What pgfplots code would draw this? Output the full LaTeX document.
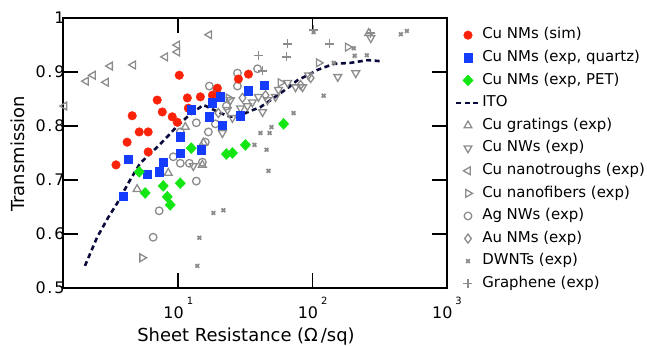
\documentclass[border=0pt]{standalone}
\usepackage{fontspec}
\setmainfont{DejaVu Sans}
\usepackage{pgfplots}
\pgfplotsset{compat=1.18}
\definecolor{cred}{RGB}{250,35,10}
\definecolor{cblue}{RGB}{20,60,250}
\definecolor{cgreen}{RGB}{20,230,20}
\definecolor{cgray}{RGB}{140,140,140}
\definecolor{cito}{RGB}{10,10,60}
\newcommand{\mysup}[1]{\hspace{3bp}\raisebox{14bp}{\fontsize{10}{10}\selectfont #1}}
\newcommand{\yl}[2]{#1\kern1.8bp.\kern1.8bp#2}
\pgfplotsset{
 mkleg/.style={legend image code/.code={\path[draw=none] (0bp,0bp) -- (23bp,0bp);\draw[##1,only marks] plot coordinates {(11.5bp,0bp)};}},
 lnleg/.style={legend image code/.code={\draw[##1] (0bp,0bp) -- (23bp,0bp);}},
 ssim/.style={only marks, mark=*, color=cred, mark size=4.3bp},
 squ/.style={only marks, mark=square*, color=cblue, mark size=4.2bp},
 spet/.style={only marks, mark=diamond*, color=cgreen, mark size=5.5bp, mark options={xscale=1.25}},
 sito/.style={color=cito, line width=2.6bp, dash pattern=on 5bp off 3.5bp, no marks},
 sgr/.style={only marks, mark=triangle, color=cgray, mark size=4.5bp, line width=1.3bp},
 snw/.style={only marks, mark=triangle, color=cgray, mark size=4.5bp, line width=1.3bp, mark options={rotate=180}},
 str/.style={only marks, mark=triangle, color=cgray, mark size=4.5bp, line width=1.3bp, mark options={rotate=90}},
 sfi/.style={only marks, mark=triangle, color=cgray, mark size=4.5bp, line width=1.3bp, mark options={rotate=-90}},
 sag/.style={only marks, mark=o, color=cgray, mark size=3.8bp, line width=1.3bp},
 sau/.style={only marks, mark=diamond, color=cgray, mark size=4.5bp, line width=1.3bp},
 sdw/.style={only marks, mark=x, color=cgray, mark size=2.6bp, line width=1.8bp},
 sgp/.style={only marks, mark=+, color=cgray, mark size=4.5bp, line width=1.4bp},
}
\begin{document}
\begin{tikzpicture}
\path[use as bounding box] (-63bp,-58bp) rectangle (584bp,288bp);
\begin{axis}[
 scale only axis, width=384bp, height=270bp,
 at={(0,0)}, anchor=south west,
 xmode=log, xmin=1.387, xmax=1000, ymin=0.5, ymax=1,
 xtick={10,100,1000},
 xticklabels={10\mysup{1},10\mysup{2},10\mysup{3}},
 ytick={0.5,0.6,0.7,0.8,0.9,1},
 yticklabels={\yl05,\yl06,\yl07,\yl08,\yl09,1},
 xminorticks=false, yminorticks=false,
 tick align=inside, major tick length=15bp,
 every tick/.style={black, line width=1.6bp},
 axis line style={line width=1.6bp},
 tick label style={font=\fontsize{16}{18}\selectfont},
 yticklabel style={xshift=5bp},
 xticklabel style={anchor=base, yshift=-30bp},
 label style={font=\fontsize{18}{21}\selectfont},
 xlabel={Sheet Resistance (Ω\,/sq)},
 ylabel={Transmission},
 xlabel style={at={(axis description cs:0.4766,-0.181)},anchor=center},
 ylabel style={at={(axis description cs:-0.117,0.497)},anchor=center},
 legend cell align=left,
 legend style={draw=none, fill=none, at={(axis description cs:1.0208,0.964)}, anchor=north west,
   font=\fontsize{15}{18}\selectfont, row sep=8.1bp, inner sep=0pt,
   nodes={font=\fontsize{15}{18}\selectfont, text height=11bp, text depth=3.5bp, inner xsep=1.5bp, inner ysep=0bp}},
]
\addlegendimage{ssim,mkleg}\addlegendentry{Cu NMs (sim)}
\addlegendimage{squ,mkleg}\addlegendentry{Cu NMs (exp, quartz)}
\addlegendimage{spet,mkleg}\addlegendentry{Cu NMs (exp, PET)}
\addlegendimage{sito,lnleg}\addlegendentry{ITO}
\addlegendimage{sgr,mkleg}\addlegendentry{Cu gratings (exp)}
\addlegendimage{snw,mkleg}\addlegendentry{Cu NWs (exp)}
\addlegendimage{str,mkleg}\addlegendentry{Cu nanotroughs (exp)}
\addlegendimage{sfi,mkleg}\addlegendentry{Cu nanofibers (exp)}
\addlegendimage{sag,mkleg}\addlegendentry{Ag NWs (exp)}
\addlegendimage{sau,mkleg}\addlegendentry{Au NMs (exp)}
\addlegendimage{sdw,mkleg}\addlegendentry{DWNTs (exp)}
\addlegendimage{sgp,mkleg}\addlegendentry{Graphene (exp)}

% Cu gratings
\addplot[sgr,forget plot] coordinates {(8.42,0.713) (4.94,0.683) (11.28,0.798) (15.37,0.769) (15.10,0.728) (261.6,0.972)};
% Cu NWs
\addplot[snw,forget plot] coordinates {(153.8,0.891) (209.4,0.898) (21.29,0.787) (12.94,0.726) (25.29,0.815) (32.7,0.837) (42.4,0.826) (46.1,0.848) (52.9,0.854) (55.7,0.867) (65.1,0.880) (74.6,0.872) (84.2,0.872) (93.3,0.894) (24.43,0.848) (29.03,0.833) (35.6,0.844) (39.5,0.854) (23.21,0.830) (270.8,0.963)};
% Cu nanotroughs
\addplot[str,forget plot] coordinates {(1.42,0.837) (2.06,0.883) (2.32,0.894) (2.90,0.881) (3.11,0.911) (4.62,0.913) (8.00,0.928) (9.83,0.950) (9.83,0.937) (17.03,0.969)};
% Cu nanofibers
\addplot[sfi,forget plot] coordinates {(5.38,0.556) (110.9,0.917) (182.5,0.946) (23.61,0.852) (57.7,0.880)};
% Ag NWs
\addplot[sag,forget plot] coordinates {(17.03,0.874) (19.21,0.863) (27.56,0.898) (27.56,0.874) (38.9,0.906) (22.81,0.837) (18.88,0.804) (13.62,0.806) (10.35,0.789) (9.18,0.743) (10.35,0.731) (15.10,0.733) (15.90,0.770) (13.62,0.698) (7.21,0.643) (6.50,0.594) (12.08,0.731) (16.75,0.789)};
% Au NMs
\addplot[sau,forget plot] coordinates {(19.89,0.824) (30.05,0.852) (44.6,0.857) (81.3,0.876) (96.6,0.889)};
% DWNTs
\addplot[sdw,forget plot] coordinates {(101.7,0.974) (202.4,0.944) (205.6,0.930) (252.9,0.931) (453.6,0.970) (502.5,0.976) (120.8,0.856) (143.5,0.917) (72.1,0.824) (49.4,0.798) (40.9,0.787) (47.8,0.787) (36.9,0.765) (45.4,0.756) (46.9,0.717) (18.25,0.639) (21.66,0.644) (14.35,0.593) (13.86,0.541)};
% Graphene
\addplot[sgp,forget plot] coordinates {(101.7,0.978) (133.9,0.952) (65.1,0.952) (39.5,0.930) (64.0,0.928) (42.4,0.902) (270.8,0.972)};
% ITO
\addplot[sito,forget plot] coordinates {(2.02,0.541) (2.49,0.594) (3.00,0.630) (3.51,0.657) (4.38,0.700) (5.20,0.731) (6.97,0.761) (8.28,0.780) (9.83,0.800) (11.68,0.817) (13.86,0.831) (15.37,0.839) (17.33,0.833) (20.57,0.824) (24.43,0.817) (29.03,0.820) (34.5,0.828) (40.9,0.835) (48.6,0.848) (57.7,0.861) (65.1,0.870) (77.3,0.885) (91.8,0.894) (108.9,0.904) (143.5,0.915) (192.2,0.917) (257.2,0.922) (321.4,0.920)};
% Cu NMs sim
\addplot[ssim,forget plot] coordinates {(10.17,0.894) (6.97,0.848) (4.54,0.819) (7.60,0.826) (9.02,0.817) (9.83,0.807) (11.68,0.852) (14.60,0.854) (17.94,0.857) (19.54,0.870) (28.04,0.887) (33.3,0.896) (5.12,0.789) (5.97,0.789) (4.16,0.770) (5.97,0.752) (3.44,0.728) (11.88,0.833)};
% Cu NMs quartz
\addplot[squ,forget plot] coordinates {(12.50,0.830) (17.94,0.843) (20.57,0.854) (17.03,0.817) (21.29,0.802) (10.35,0.780) (10.35,0.750) (14.85,0.756) (7.73,0.733) (4.24,0.739) (5.87,0.711) (7.21,0.715) (3.89,0.670) (29.03,0.819) (33.3,0.865) (43.8,0.876)};
% Cu NMs PET
\addplot[spet,forget plot] coordinates {(5.12,0.715) (5.67,0.676) (7.73,0.689) (8.28,0.669) (8.71,0.654) (10.35,0.694) (12.50,0.759) (22.81,0.748) (25.29,0.750) (31.6,0.765) (60.8,0.804)};
\end{axis}
\end{tikzpicture}
\end{document}
